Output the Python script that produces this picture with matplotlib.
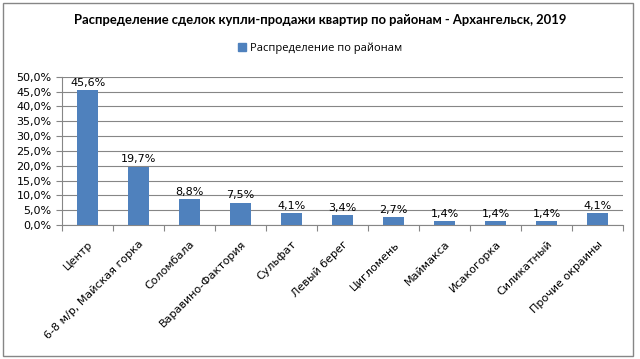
import matplotlib.pyplot as plt
from matplotlib.patches import Rectangle
from matplotlib.ticker import FuncFormatter, FixedLocator

districts = ['Центр', '6-8 м/р, Майская горка', 'Соломбала', 'Варавино-Фактория',
             'Сульфат', 'Левый берег', 'Цигломень', 'Маймакса', 'Исакогорка',
             'Силикатный', 'Прочие окраины']
shares = [45.6, 19.7, 8.8, 7.5, 4.1, 3.4, 2.7, 1.4, 1.4, 1.4, 4.1]

bar_color = '#4f81bd'

fig = plt.figure(figsize=(6.4, 3.59), dpi=100)
ax = fig.add_axes([0.097, 0.373, 0.877, 0.413])

x = list(range(len(districts)))
ax.bar(x, shares, width=0.41, color=bar_color, zorder=3)

for xi, v in zip(x, shares):
    ax.text(xi, v + 0.8, f'{v:.1f}%'.replace('.', ','), ha='center', va='bottom',
            fontsize=8, family='DejaVu Sans', zorder=4)

ax.set_xlim(-0.5, len(districts) - 0.5)
ax.set_ylim(0, 50)
ax.set_yticks(range(0, 51, 5))
ax.yaxis.set_major_formatter(FuncFormatter(lambda v, p: f'{v:.1f}%'.replace('.', ',')))
ax.grid(axis='y', color='#868686', linewidth=0.8, zorder=0)

# ticks between categories, labels at centres
ax.xaxis.set_major_locator(FixedLocator([i - 0.5 for i in range(len(districts) + 1)]))
ax.xaxis.set_major_formatter(FuncFormatter(lambda v, p: ''))
ax.set_xticks(x, minor=True)
ax.set_xticklabels(districts, minor=True, rotation=45, ha='right', rotation_mode='anchor',
                   fontsize=8, family='DejaVu Sans')
ax.tick_params(axis='x', which='minor', length=0, pad=10)
ax.tick_params(axis='x', which='major', length=4, color='#868686')
ax.tick_params(axis='y', length=4, color='#868686', labelsize=8)

for s in ['top', 'right']:
    ax.spines[s].set_visible(False)
for s in ['left', 'bottom']:
    ax.spines[s].set_color('#868686')

fig.text(0.5, 0.945, 'Распределение сделок купли-продажи квартир по районам - Архангельск, 2019',
         ha='center', va='center', fontsize=9.4, fontweight='bold', family='Lato')

fig.legend(handles=[Rectangle((0, 0), 1, 1, color=bar_color)], labels=['Распределение по районам'],
           loc='center', bbox_to_anchor=(0.5, 0.866), frameon=False,
           handlelength=0.7, handleheight=0.7, handletextpad=0.4,
           prop={'family': 'Open Sans', 'size': 8})

fig.patches.append(Rectangle((0.005, 0.008), 0.984, 0.984, transform=fig.transFigure,
                             fill=False, edgecolor='#868686', linewidth=1))

fig.savefig('out.png', dpi=100)
